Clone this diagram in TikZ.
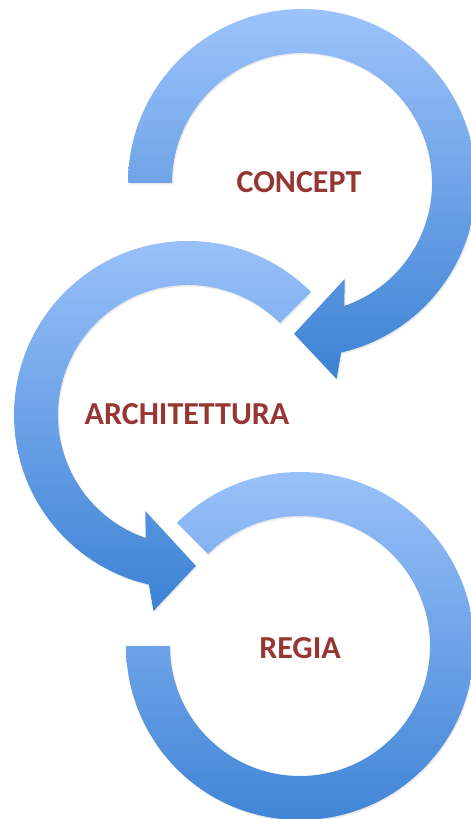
\documentclass[tikz,border=0pt]{standalone}
\usepackage{fontspec}
\setmainfont{Carlito}
\usepackage{tikz}
\usetikzlibrary{math}
\usetikzlibrary{shadows}
\definecolor{clight}{RGB}{157,195,251}
\definecolor{cmid}{RGB}{143,187,246}
\definecolor{cdark}{RGB}{60,130,212}
\definecolor{cred}{RGB}{150,55,52}

\begin{document}
\begin{tikzpicture}[x=1pt, y=1pt,
    ringarrow/.style={top color=clight, middle color=cmid, bottom color=cdark,
      drop shadow={opacity=0.18, shadow xshift=1pt, shadow yshift=-1.5pt}},
    ringtext/.style={font=\fontsize{32}{38}\selectfont\bfseries, text=cred}]
  \tikzmath{
    \ri = 130;
    \ro = 174;
    %
    \bi = 105;
    \bo = 199;
    \rm = 151;
  }
  \clip (0,0) rectangle (471,819);

  % concept, clockwise from the left
  \path [ringarrow, shift={(302,636)}] (180:\ro) arc[start angle=180, end angle=-77, radius=\ro]
    -- (-80:\bo) -- (-93:\rm) -- (-66:\bi) -- (-71:\ri)
    arc[start angle=-71, end angle=180, radius=\ri] -- cycle;
  % architettura, counterclockwise from upper right
  \path [ringarrow, shift={(188,404)}] (45:\ro) arc[start angle=45, end angle=257, radius=\ro]
    -- (260:\bo) -- (273:\rm) -- (246:\bi) -- (251:\ri)
    arc[start angle=251, end angle=45, radius=\ri] -- cycle;
  % regia, open ring without head
  \path [ringarrow, shift={(300,173)}] (135:\ro) arc[start angle=135, end angle=-180, radius=\ro]
    -- (180:\ri) arc[start angle=-180, end angle=135, radius=\ri] -- cycle;

  % labels
  \node [ringtext] (concept) at (299,637) {CONCEPT};
  \node [ringtext] (architettura) at (187,405) {ARCHITETTURA};
  \node [ringtext] (regia) at (300,171) {REGIA};
\end{tikzpicture}
\end{document}
